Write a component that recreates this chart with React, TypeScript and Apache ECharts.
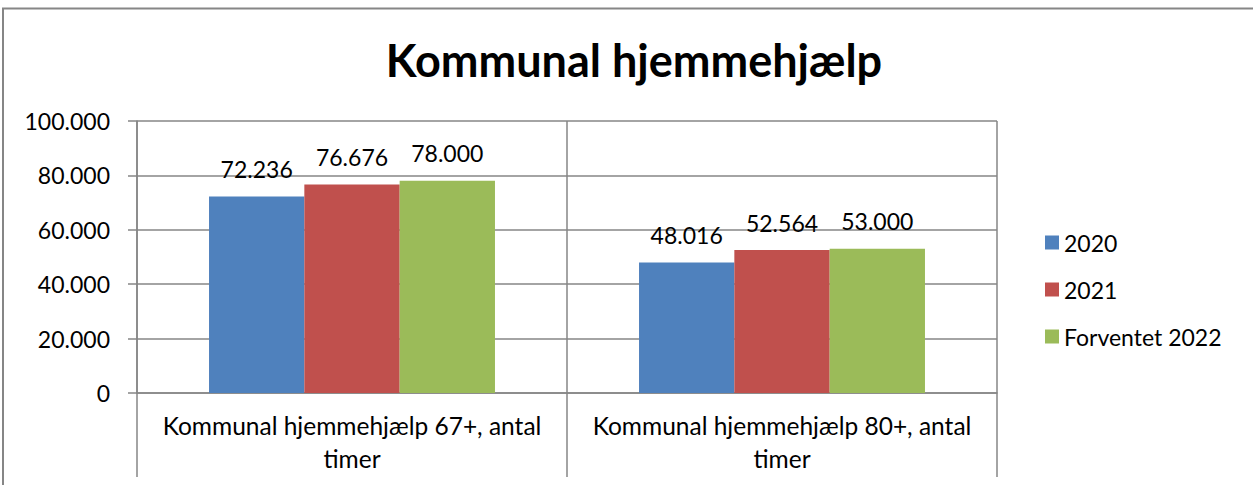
import React, { useEffect, useRef } from "react";
import * as echarts from "echarts";

const categories = [
  "Kommunal hjemmehjælp 67+, antal\ntimer",
  "Kommunal hjemmehjælp 80+, antal\ntimer",
];
const seriesNames = ["2020", "2021", "Forventet 2022"];
const values2020 = [72236, 48016];
const values2021 = [76676, 52564];
const values2022 = [78000, 53000];
const yTicks = [0, 20000, 40000, 60000, 80000, 100000];
const colors = ["#4F81BD", "#C0504D", "#9BBB59"];
const FONT = "Lato, 'Open Sans', sans-serif";

const fmt = (v: number) =>
  v === 0 ? "0" : String(Math.round(v)).replace(/\B(?=(\d{3})+(?!\d))/g, ".");

export default function App() {
  const ref = useRef<HTMLDivElement>(null);
  useEffect(() => {
    if (!ref.current) return;
    const chart = echarts.init(ref.current, null, { renderer: "svg" });
    const data = [values2020, values2021, values2022];
    chart.setOption({
      animation: false,
      backgroundColor: "#ffffff",
      title: {
        text: "Kommunal hjemmehjælp",
        left: 629,
        textAlign: "center",
        top: 32,
        textStyle: { fontFamily: FONT, fontSize: 45, fontWeight: "bold", color: "#000" },
      },
      legend: {
        orient: "vertical",
        left: 1040,
        top: 226,
        itemWidth: 14,
        itemHeight: 14,
        itemGap: 24,
        icon: "rect",
        textStyle: { fontFamily: FONT, fontSize: 23, color: "#000" },
        data: seriesNames,
      },
      grid: { left: 137, right: 256, top: 121, bottom: 92, containLabel: false },
      xAxis: {
        type: "category",
        data: categories,
        axisLine: { lineStyle: { color: "#868686", width: 1.5 } },
        axisTick: { show: true, length: 84, lineStyle: { color: "#868686", width: 1.5 } },
        splitLine: { show: true, lineStyle: { color: "#868686", width: 1.5 } },
        axisLabel: {
          fontFamily: FONT,
          fontSize: 24.5,
          color: "#000",
          lineHeight: 33,
          margin: 16,
          interval: 0,
        },
      },
      yAxis: {
        type: "value",
        min: yTicks[0],
        max: yTicks[yTicks.length - 1],
        interval: yTicks[1] - yTicks[0],
        axisLine: { show: true, lineStyle: { color: "#868686", width: 1.5 } },
        axisTick: { show: true, length: 9, lineStyle: { color: "#868686", width: 1.5 } },
        splitLine: { show: true, lineStyle: { color: "#868686", width: 1.5 } },
        axisLabel: {
          fontFamily: FONT,
          fontSize: 23,
          color: "#000",
          margin: 27,
          formatter: (v: number) => fmt(v),
        },
      },
      series: seriesNames.map((name, i) => ({
        name,
        type: "bar",
        data: data[i],
        barGap: "0%",
        barCategoryGap: "33.5%",
        itemStyle: { color: colors[i] },
        label: {
          show: true,
          position: "top",
          distance: 16,
          fontFamily: FONT,
          fontSize: 23,
          color: "#000",
          formatter: (p: any) => fmt(p.value),
        },
      })),
      graphic: [
        {
          type: "rect",
          shape: { x: 3, y: 8.5, width: 1260, height: 500 },
          style: { fill: "none", stroke: "#868686", lineWidth: 2 },
          silent: true,
        },
      ],
    });
    return () => chart.dispose();
  }, []);
  return (
    <div
      ref={ref}
      style={{ position: "absolute", left: 0, top: 0, width: 1253, height: 485 }}
    />
  );
}
